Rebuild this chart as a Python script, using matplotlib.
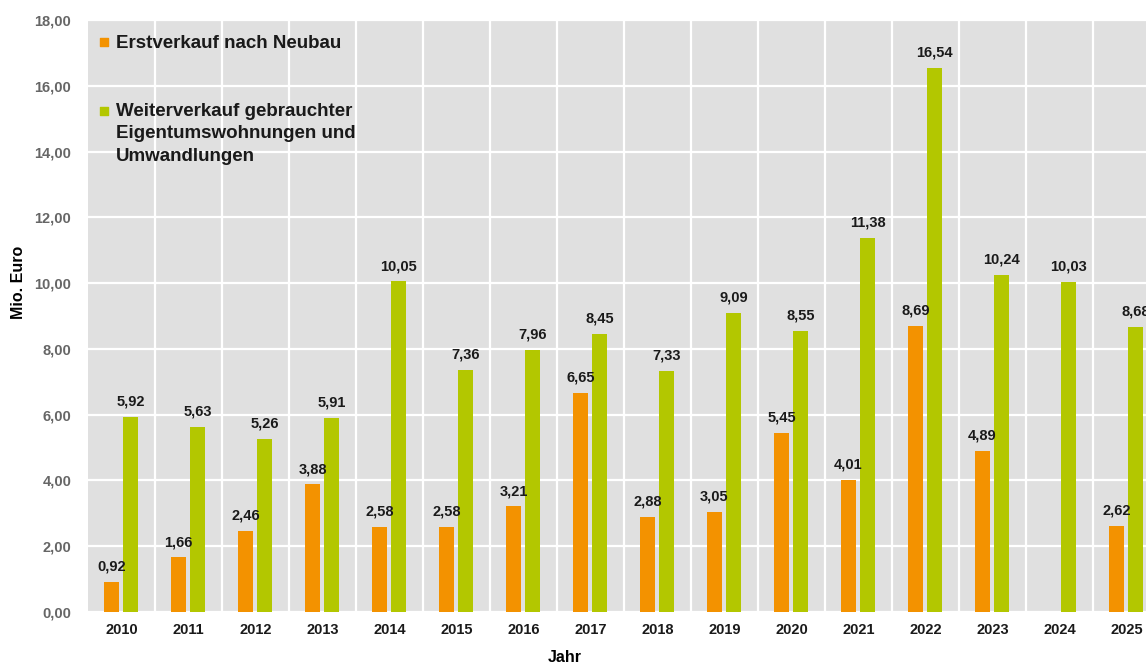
import matplotlib.pyplot as plt
import numpy as np

plt.rcParams['font.family'] = ['Liberation Sans', 'DejaVu Sans']

# Daten
jahre = ['2010', '2011', '2012', '2013', '2014', '2015', '2016', '2017',
         '2018', '2019', '2020', '2021', '2022', '2023', '2024', '2025']
erstverkauf = [0.92, 1.66, 2.46, 3.88, 2.58, 2.58, 3.21, 6.65,
               2.88, 3.05, 5.45, 4.01, 8.69, 4.89, np.nan, 2.62]
weiterverkauf = [5.92, 5.63, 5.26, 5.91, 10.05, 7.36, 7.96, 8.45,
                 7.33, 9.09, 8.55, 11.38, 16.54, 10.24, 10.03, 8.68]

orange = '#F39200'
gruen = '#B3C700'

fig = plt.figure(figsize=(11.46, 6.64), dpi=100)
ax = fig.add_axes([88 / 1146, 52 / 664, 1 - 88 / 1146, 592 / 664])
ax.set_facecolor('#E0E0E0')

x = np.arange(len(jahre))
w = 0.22
b1 = ax.bar(x - 0.15, erstverkauf, w, color=orange, zorder=3)
b2 = ax.bar(x + 0.135, weiterverkauf, w, color=gruen, zorder=3)

def fmt(v):
    return ('%.2f' % v).replace('.', ',')

for bars, werte in ((b1, erstverkauf), (b2, weiterverkauf)):
    for rect, v in zip(bars, werte):
        if np.isnan(v):
            continue
        ax.annotate(fmt(v), (rect.get_x() + rect.get_width() / 2, v),
                    xytext=(0, 6), textcoords='offset points',
                    ha='center', va='bottom', fontsize=10.5,
                    fontweight='bold', color='#1a1a1a', zorder=4)

ax.set_ylim(0, 18)
ax.set_yticks(np.arange(0, 19, 2))
ax.set_yticklabels([fmt(v) for v in np.arange(0, 19, 2)],
                   fontsize=10.5, fontweight='bold', color='#666666')
ax.set_xlim(-0.5, 15.29)
ax.set_xticks(x)
ax.set_xticklabels(jahre, fontsize=10.5, fontweight='bold', color='#1a1a1a')
ax.set_xticks(x[:-1] + 0.5, minor=True)
ax.tick_params(axis='both', which='both', length=0)
ax.tick_params(axis='y', pad=12)
ax.tick_params(axis='x', pad=8)

ax.grid(axis='y', color='white', linewidth=1.6, zorder=0)
ax.grid(axis='x', which='minor', color='white', linewidth=1.6, zorder=0)
ax.grid(axis='x', which='major', visible=False)
for s in ax.spines.values():
    s.set_visible(False)

ax.set_ylabel('Mio. Euro', fontsize=11.5, fontweight='bold')
ax.yaxis.set_label_coords(-0.059, 0.556)
ax.set_xlabel('Jahr', fontsize=11.5, fontweight='bold')
ax.xaxis.set_label_coords(0.451, -0.064)

# Legende (manuell)
ax.scatter([0.015], [0.963], marker='s', s=34, color=orange,
           transform=ax.transAxes, zorder=5, clip_on=False)
ax.text(0.026, 0.960, 'Erstverkauf nach Neubau', transform=ax.transAxes,
        fontsize=13.5, fontweight='bold', va='center', color='#1a1a1a')
ax.scatter([0.015], [0.846], marker='s', s=34, color=gruen,
           transform=ax.transAxes, zorder=5, clip_on=False)
ax.text(0.026, 0.846 + 0.014,
        'Weiterverkauf gebrauchter\nEigentumswohnungen und\nUmwandlungen',
        transform=ax.transAxes, fontsize=13.5, fontweight='bold', va='top',
        linespacing=1.42, color='#1a1a1a')

fig.savefig('out.png', dpi=100)
